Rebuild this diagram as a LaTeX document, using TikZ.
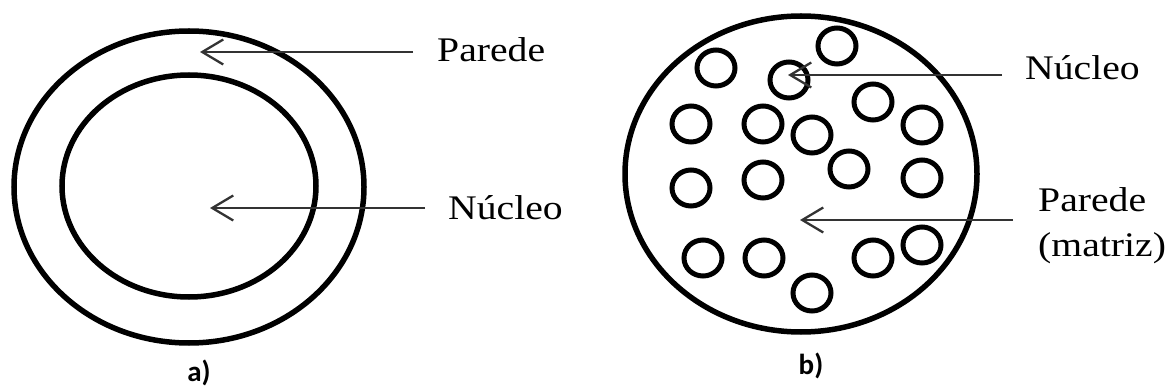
\documentclass[tikz,border=0pt]{standalone}
\usepackage{fontspec}
\setmainfont{Liberation Serif}
\newfontfamily\lblfont[FakeStretch=1.15]{Liberation Serif}
\newfontfamily\capfont[BoldFont={Carlito Bold}]{Carlito}
\usetikzlibrary{arrows.meta}
\begin{document}
\begin{tikzpicture}[x=1pt,y=-1pt,
  wall/.style={line width=5.5pt,black},
  pore/.style={line width=5pt,black},
  pointer/.style={line width=2.3pt,draw=black!80,
     -{Straight Barb[length=21pt,width=25pt,line width=2.3pt]}},
  lbl/.style={anchor=base west,inner sep=0pt,text=black,font=\lblfont\fontsize{34.5}{45}\selectfont},
  sublbl/.style={inner sep=0pt,font=\capfont\bfseries\fontsize{29}{33}\selectfont}]
\useasboundingbox (0,0) rectangle (1165,390);
% ---- a) ----
\draw[wall] (189,187) ellipse [x radius=175, y radius=156];
\draw[wall] (189,186) ellipse [x radius=127, y radius=111];
\node[lbl] (lpa) at (437,62) {Parede};
\node[lbl] (lnu) at (448,220) {Núcleo};
\coordinate (lpaS) at (413,52);
\coordinate (lpaT) at (200,52);
\coordinate (lnuS) at (425,208);
\coordinate (lnuT) at (210,208);
\draw[pointer] (lpaS) -- (lpaT);
\draw[pointer] (lnuS) -- (lnuT);
\node[sublbl] (capa) at (199,373) {a)};
% ---- b) ----
\draw[wall] (801,174) ellipse [x radius=176, y radius=158];
\foreach \px/\py in {837/46, 716/68, 789/80, 873/102, 691/124, 763/124, 812/135,
  922/125, 849/169, 922/178, 691/188, 763/180, 703/258, 764/258, 873/258,
  922/245, 812/293}
  \draw[pore] (\px,\py) ellipse [x radius=19, y radius=18];
\node[lbl] (rnu) at (1025,80) {Núcleo};
\node[lbl] (rpa) at (1038,212) {Parede};
\node[lbl] (rma) at (1038,257) {(matriz)};
\coordinate (rnuS) at (1002,75);
\coordinate (rnuT) at (788,75);
\coordinate (rpaS) at (1013,220);
\coordinate (rpaT) at (800,220);
\draw[pointer] (rnuS) -- (rnuT);
\draw[pointer] (rpaS) -- (rpaT);
\node[sublbl] (capb) at (811,366) {b)};
\end{tikzpicture}
\end{document}
